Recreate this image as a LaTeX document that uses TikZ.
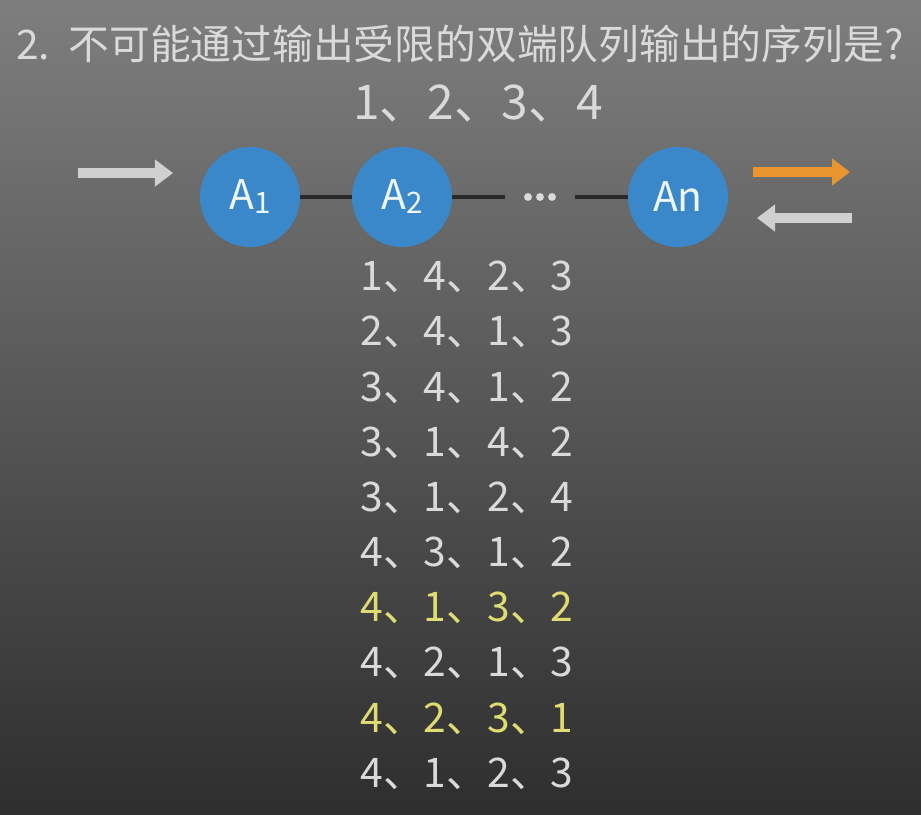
\documentclass[tikz,border=0pt]{standalone}
\usepackage{fontspec}
\setmainfont{Noto Sans CJK SC}
\usetikzlibrary{arrows.meta, positioning}
\definecolor{bgtop}{HTML}{7E7E7E}
\definecolor{bgmid}{HTML}{4F4F4F}
\definecolor{bgbot}{HTML}{2E2E2E}
\definecolor{ink}{HTML}{DADADA}
\definecolor{ball}{HTML}{3A88C9}
\definecolor{link}{HTML}{2A2A2A}
\definecolor{outarrow}{HTML}{E99630}
\definecolor{inarrow}{HTML}{D0D0D0}
\definecolor{hilite}{HTML}{DEDC72}
\newcommand{\idx}[1]{\raisebox{-0.1em}{\fontsize{21}{21}\selectfont #1}}

\begin{document}
\begin{tikzpicture}[
  x=0.025cm, y=-0.025cm,
  title/.style={text=ink, font=\fontsize{29}{34}\selectfont, inner sep=0pt},
  elem/.style={circle, fill=ball, minimum size=2.5cm, inner sep=0pt,
               text=white!92!ball, font=\fontsize{29}{34}\selectfont},
  seq/.style={text=ink, minimum height=1.365cm, inner sep=0pt,
              font=\fontsize{29}{34}\selectfont},
  bad/.style={seq, text=hilite},
  link/.style={line width=2.8pt, color=link},
  fatarrow/.style={-{Triangle[length=0.45cm, width=0.65cm]}, line width=0.25cm}
]
\useasboundingbox (0,0) rectangle (921,815);
\shade[top color=bgtop, middle color=bgmid, bottom color=bgbot] (0,0) rectangle (921,815);

% question and input order
\node[title, anchor=west] (question) at (16,44) {2.~~不可能通过输出受限的双端队列输出的序列是?};
\node[title, font=\fontsize{34}{40}\selectfont] (order) at (478,103) {1、2、3、4};

% the deque
\node[elem] (a1) at (250,197) {A\idx{1}};
\node[elem] (a2) at (402,197) {A\idx{2}};
\node[elem] (an) at (678,197) {An};
\node[minimum width=1.75cm, inner sep=0pt] (dots) at (540,197) {};
\foreach \dx in {-12,0,12}
  \fill[ink] ([xshift=\dx*0.025cm]dots.center) circle (2.8pt);

\draw[link] (a1) -- (a2);
\draw[link] (a2) -- (dots);
\draw[link] (dots) -- (an);

% in at the front, in and out at the rear
\coordinate (inL)  at (78,173);
\coordinate (inR)  at (173,173);
\coordinate (outL) at (753,172);
\coordinate (outR) at (850,172);
\coordinate (backR) at (852,218);
\coordinate (backL) at (757,218);
\draw[fatarrow, inarrow] (inL) -- (inR);
\draw[fatarrow, outarrow] (outL) -- (outR);
\draw[fatarrow, inarrow] (backR) -- (backL);

% candidate output sequences
\node[seq] (s1) at (467,277) {1、4、2、3};
\node[seq, below=0pt of s1] (s2) {2、4、1、3};
\node[seq, below=0pt of s2] (s3) {3、4、1、2};
\node[seq, below=0pt of s3] (s4) {3、1、4、2};
\node[seq, below=0pt of s4] (s5) {3、1、2、4};
\node[seq, below=0pt of s5] (s6) {4、3、1、2};
\node[bad, below=0pt of s6] (s7) {4、1、3、2};
\node[seq, below=0pt of s7] (s8) {4、2、1、3};
\node[bad, below=0pt of s8] (s9) {4、2、3、1};
\node[seq, below=0pt of s9] (s10) {4、1、2、3};

\end{tikzpicture}
\end{document}
